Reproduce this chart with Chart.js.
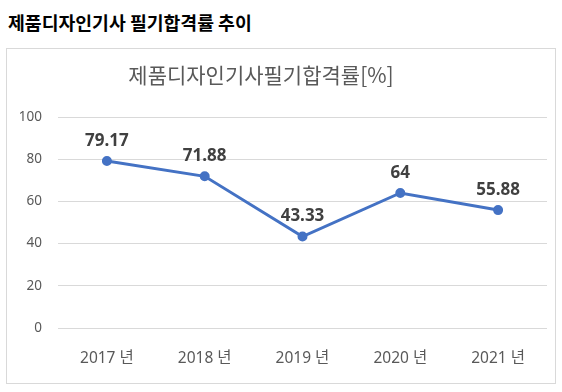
<!DOCTYPE html>
<html><head><meta charset="utf-8">
<script src="https://cdn.jsdelivr.net/npm/chart.js@4"></script>
<style>
html,body{margin:0;padding:0;background:#fff;width:562px;height:392px;overflow:hidden;}
#pt{position:absolute;left:8px;top:10px;font:bold 18.3px "Noto Sans CJK KR",sans-serif;color:#000;line-height:24px;white-space:nowrap;}
#box{position:absolute;left:6px;top:48px;width:548px;height:334px;border:1px solid #d9d9d9;}
</style></head>
<body>
<div id="pt">제품디자인기사 필기합격률 추이</div>
<div id="box"><canvas id="c"></canvas></div>
<script>
const pageTitle = "제품디자인기사 필기합격률 추이";
const chartTitle = "제품디자인기사필기합격률[%]";
const categories = ["2017 년", "2018 년", "2019 년", "2020 년", "2021 년"];
const passRates = [79.17, 71.88, 43.33, 64, 55.88];
const passRateLabels = ["79.17", "71.88", "43.33", "64", "55.88"];

const FONT = '"Noto Sans","Noto Sans CJK KR",sans-serif';

const overlay = {
  id: 'overlay',
  afterDatasetsDraw(chart) {
    const ctx = chart.ctx;
    ctx.save();
    ctx.fillStyle = '#595959';
    ctx.font = '21px "Noto Sans CJK KR",sans-serif';
    ctx.textAlign = 'center';
    ctx.textBaseline = 'middle';
    ctx.fillText(chartTitle, 254, 26);
    const meta = chart.getDatasetMeta(0);
    ctx.fillStyle = '#404040';
    ctx.font = 'bold 17px ' + FONT;
    meta.data.forEach((p, i) => {
      ctx.fillText(passRateLabels[i], p.x, p.y - 20);
    });
    ctx.restore();
  }
};

new Chart(document.getElementById('c'), {
  type: 'line',
  data: {
    labels: categories,
    datasets: [{
      data: passRates,
      borderColor: '#4472C4',
      backgroundColor: '#4472C4',
      borderWidth: 3,
      pointRadius: 3.5,
      pointHoverRadius: 3.5,
      tension: 0
    }]
  },
  options: {
    responsive: true,
    maintainAspectRatio: false,
    animation: false,
    layout: { padding: { left: 0, right: 8, top: 68, bottom: 0 } },
    plugins: { legend: { display: false }, title: { display: false }, tooltip: { enabled: false } },
    scales: {
      x: {
        offset: true,
        grid: { display: false, drawTicks: false },
        border: { display: false },
        ticks: { color: '#595959', font: { family: FONT, size: 15.5 }, padding: 21, maxRotation: 0 },
        afterFit(s) { s.height = 55; }
      },
      y: {
        min: 0, max: 100,
        grid: { color: '#d9d9d9', drawTicks: false },
        border: { display: false },
        ticks: { stepSize: 20, color: '#595959', font: { family: FONT, size: 13.5 }, padding: 16 },
        afterFit(s) { s.width = 51; }
      }
    }
  },
  plugins: [overlay]
});
</script>
</body></html>
